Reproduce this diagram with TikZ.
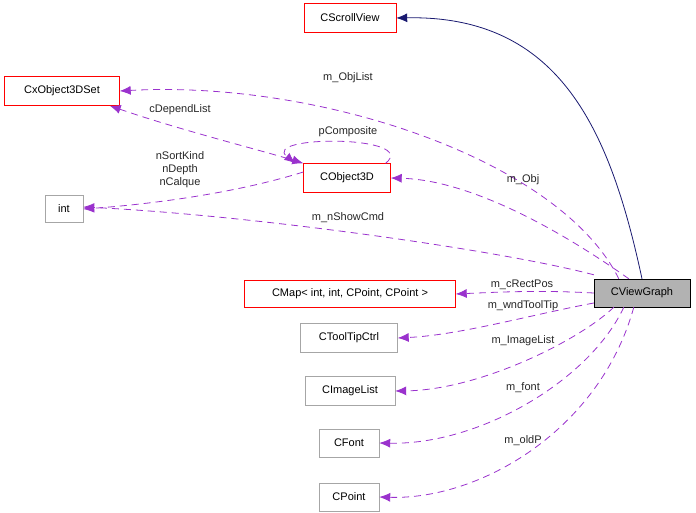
\documentclass[tikz,border=0pt]{standalone}
\usepackage{fontspec}
\setmainfont{Liberation Sans}
\usetikzlibrary{arrows.meta}
\definecolor{orch}{HTML}{9A32CD}
\definecolor{nav}{HTML}{191970}
\begin{document}
\begin{tikzpicture}[x=1pt,y=-1pt,
  every node/.style={font=\fontsize{11}{13}\selectfont},
  box/.style={draw=red,minimum height=29,inner sep=0,fill=white},
  gbox/.style={draw=black!35,minimum height=29,inner sep=0,fill=white},
  dep/.style={draw=orch,line width=0.8,dashed,dash pattern=on 7pt off 5pt,-{Latex[length=11,width=9]},color=orch},
  lab/.style={inner sep=1,align=center,text=black!85}]
\useasboundingbox (0,0) rectangle (696,513);
\node[box,minimum width=92] (sv) at (350,18) {CScrollView};
\node[box,minimum width=115] (xs) at (62,91) {CxObject3DSet};
\node[box,minimum width=87] (o3) at (347,178) {CObject3D};
\node[gbox,minimum width=38,minimum height=27] (int) at (64,209) {int};
\node[box,minimum width=211,minimum height=27] (map) at (350,294) {CMap< int, int, CPoint, CPoint >};
\node[draw=black,fill=black!30,minimum width=96,minimum height=28,inner sep=0] (vg) at (642,293) {CViewGraph};
\node[gbox,minimum width=97] (tt) at (349,338) {CToolTipCtrl};
\node[gbox,minimum width=90] (il) at (350,391) {CImageList};
\node[gbox,minimum width=60,minimum height=28] (ft) at (349,443) {CFont};
\node[gbox,minimum width=60,minimum height=28] (pt) at (349,497) {CPoint};
\draw[color=nav,line width=0.8,-{Latex[length=11,width=9]}] (vg.north) .. controls (610,130) and (560,15) .. (sv.east);
\draw[dep] (vg.north west) ++(25,0) .. controls (560,160) and (320,80) .. (xs.east);
\draw[dep,{Latex[length=11,width=9]}-{Latex[length=11,width=9]}] (xs.south east) ++(-10,0) .. controls (180,130) and (260,150) .. (o3.north west);
\draw[dep] (o3.north east) ++(-5,0) .. controls (420,135) and (260,135) .. ([xshift=-8]o3.north west);
\draw[dep] ([yshift=6]o3.west) .. controls (230,195) and (140,205) .. (int.east);
\draw[dep] (vg.north west) ++(35,0) .. controls (560,230) and (470,180) .. (o3.east);
\draw[dep] (vg.north west) ++(0,-4) .. controls (500,250) and (250,215) .. ([yshift=2]int.east);
\draw[dep] (vg.west) .. controls (540,290) and (500,292) .. (map.east);
\draw[dep] (vg.west) ++(0,10) .. controls (530,315) and (460,335) .. (tt.east);
\draw[dep] (vg.south west) ++(20,0) .. controls (580,340) and (480,390) .. (il.east);
\draw[dep] (vg.south west) ++(30,0) .. controls (590,380) and (480,445) .. (ft.east);
\draw[dep] (vg.south west) ++(40,0) .. controls (600,430) and (480,500) .. (pt.east);
\node[lab] at (348,78) {m\_ObjList};
\node[lab] at (180,110) {cDependList};
\node[lab] at (348,132) {pComposite};
\node[lab] at (180,170) {nSortKind\\nDepth\\nCalque};
\node[lab] at (523,180) {m\_Obj};
\node[lab] at (348,218) {m\_nShowCmd};
\node[lab] at (522,285) {m\_cRectPos};
\node[lab] at (523,306) {m\_wndToolTip};
\node[lab] at (523,341) {m\_ImageList};
\node[lab] at (523,388) {m\_font};
\node[lab] at (523,441) {m\_oldP};
\end{tikzpicture}
\end{document}
